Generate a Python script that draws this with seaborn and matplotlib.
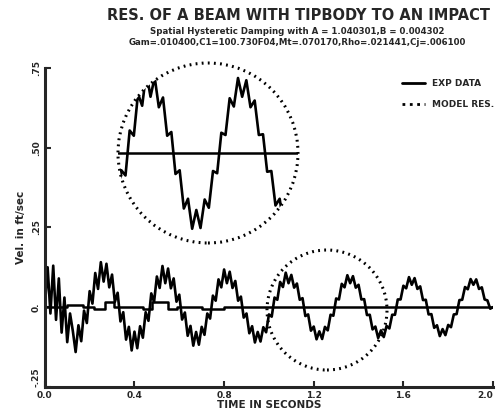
import numpy as np
import pandas as pd
import seaborn as sns
import matplotlib.pyplot as plt
from matplotlib.patches import Circle
from matplotlib.lines import Line2D

# =========================
# DATA
# =========================
dt = 0.0125
exp_vel = [
    0.0, 0.125, -0.02, 0.13, -0.04, 0.09, -0.08, 0.03, -0.11, -0.02,
    -0.075, -0.141, -0.057, -0.107, -0.011, -0.050, 0.050, 0.011, 0.107, 0.057, 0.141,
    0.080, 0.136, 0.062, 0.102, 0.016, 0.045, -0.045, -0.016, -0.102, -0.062, -0.136,
    -0.077, -0.129, -0.060, -0.096, -0.016, -0.043, 0.043, 0.016, 0.096, 0.060, 0.129,
    0.075, 0.121, 0.059, 0.090, 0.017, 0.039, -0.039, -0.017, -0.090, -0.059, -0.121,
    -0.078, -0.118, -0.062, -0.087, -0.020, -0.036, 0.036, 0.020, 0.087, 0.062, 0.118,
    0.075, 0.111, 0.060, 0.082, 0.020, 0.033, -0.033, -0.020, -0.082, -0.060, -0.111,
    -0.078, -0.108, -0.063, -0.079, -0.023, -0.030, 0.030, 0.023, 0.079, 0.063, 0.108,
    0.075, 0.101, 0.061, 0.074, 0.023, 0.028, -0.028, -0.023, -0.074, -0.061, -0.101,
    -0.076, -0.100, -0.062, -0.073, -0.024, -0.027, 0.027, 0.024, 0.073, 0.062, 0.100,
    0.075, 0.097, 0.061, 0.070, 0.024, 0.025, -0.025, -0.024, -0.070, -0.061, -0.097,
    -0.073, -0.094, -0.059, -0.067, -0.024, -0.024, 0.024, 0.024, 0.067, 0.059, 0.094,
    0.070, 0.091, 0.057, 0.065, 0.022, 0.023, -0.023, -0.022, -0.065, -0.057, -0.091,
    -0.069, -0.088, -0.056, -0.063, -0.023, -0.022, 0.022, 0.023, 0.063, 0.056, 0.088,
    0.070, 0.087, 0.057, 0.062, 0.024, 0.021, -0.005, 0.0,
]
exp_time = [round(i * dt, 4) for i in range(len(exp_vel))]

model_time = [0.0, 0.10, 0.17, 0.22, 0.27, 0.31, 0.44, 0.48, 0.55, 0.59, 0.70, 0.80, 0.90, 2.0]
model_vel = [0.0, 0.008, 0.0, -0.006, 0.015, 0.0, -0.006, 0.015, -0.006, 0.0, -0.005, 0.0, 0.0, 0.0]

x_ticks = [0.0, 0.4, 0.8, 1.2, 1.6, 2.0]
x_labels = ['0.0', '0.4', '0.8', '1.2', '1.6', '2.0']
y_ticks = [-0.25, 0.0, 0.25, 0.50, 0.75]
y_labels = ['-.25', '0.', '.25', '.50', '.75']

title = 'RES. OF A BEAM WITH TIPBODY TO AN IMPACT'
sub1 = 'Spatial Hysteretic Damping with A = 1.040301,B = 0.004302'
sub2 = 'Gam=.010400,C1=100.730F04,Mt=.070170,Rho=.021441,Cj=.006100'

df = pd.DataFrame({'t': exp_time, 'v': exp_vel})
dm = pd.DataFrame({'t': model_time, 'v': model_vel})

# =========================
# FIGURE
# =========================
sns.set_style('ticks')
plt.rcParams['font.family'] = ['DejaVu Sans']
plt.rcParams['font.weight'] = 'bold'

fw, fh = 498, 415
fig = plt.figure(figsize=(4.98, 4.15), dpi=100)
ax = fig.add_axes([0.09, 0.068, 0.90, 0.768])

sns.lineplot(data=df, x='t', y='v', ax=ax, color='black', lw=1.9,
             estimator=None, sort=False)
ax.step(dm['t'], dm['v'], where='post', color='black', lw=1.8)

ax.set_xlim(0, 2.0)
ax.set_ylim(-0.25, 0.75)
ax.set_xticks(x_ticks)
ax.set_xticklabels(x_labels, fontsize=6.5, fontweight='bold')
ax.get_xticklabels()[-1].set_ha('right')
ax.set_yticks(y_ticks)
ax.set_yticklabels(y_labels, fontsize=6.5, fontweight='bold', rotation=90, va='center')
ax.get_yticklabels()[0].set_va('bottom')
ax.tick_params(direction='in', length=4, width=1.5, pad=3)
for s in ['top', 'right']:
    ax.spines[s].set_visible(False)
for s in ['left', 'bottom']:
    ax.spines[s].set_linewidth(2.2)
ax.set_xlabel('TIME IN SECONDS', fontsize=7.5, fontweight='bold', labelpad=0)
ax.set_ylabel('Vel. in ft/sec', fontsize=7.5, fontweight='bold', labelpad=4)

# small dotted circle around the magnified region
ring = Circle((327 / 100, (fh - 310) / 100), 0.60, transform=fig.dpi_scale_trans,
              fill=False, lw=2.2, linestyle=(0, (0.6, 1.4)), color='black')
fig.patches.append(ring)

# magnified inset
axi = fig.add_axes([118 / fw, 1 - 243 / fh, 180 / fw, 180 / fh])
axi.set_xlim(0.99, 1.53)
axi.set_ylim(-0.12, 0.12)
axi.axis('off')
clip = Circle((0.5, 0.5), 0.5, transform=axi.transAxes, fill=False, lw=2.2,
              linestyle=(0, (0.6, 1.4)), color='black', clip_on=False)
axi.add_patch(clip)
ln = sns.lineplot(data=df, x='t', y='v', ax=axi, color='black', lw=1.9,
                  estimator=None, sort=False).lines[0]
ln.set_clip_path(clip)
hl = axi.axhline(0, color='black', lw=1.8)
hl.set_clip_path(clip)

# legend
handles = [Line2D([], [], color='black', lw=2),
           Line2D([], [], color='black', lw=2, linestyle=':')]
fig.legend(handles, ['EXP DATA', 'MODEL RES.'], loc='upper left',
           bbox_to_anchor=(0.79, 0.83), frameon=False, handlelength=2.6,
           labelspacing=1.4, prop={'size': 6.5, 'weight': 'bold'})

fig.text(0.60, 0.962, title, ha='center', va='center', fontsize=10.5, fontweight='bold')
fig.text(0.597, 0.925, sub1, ha='center', va='center', fontsize=6.2, fontweight='bold')
fig.text(0.597, 0.898, sub2, ha='center', va='center', fontsize=6.2, fontweight='bold')

fig.savefig('out.png', dpi=100)
